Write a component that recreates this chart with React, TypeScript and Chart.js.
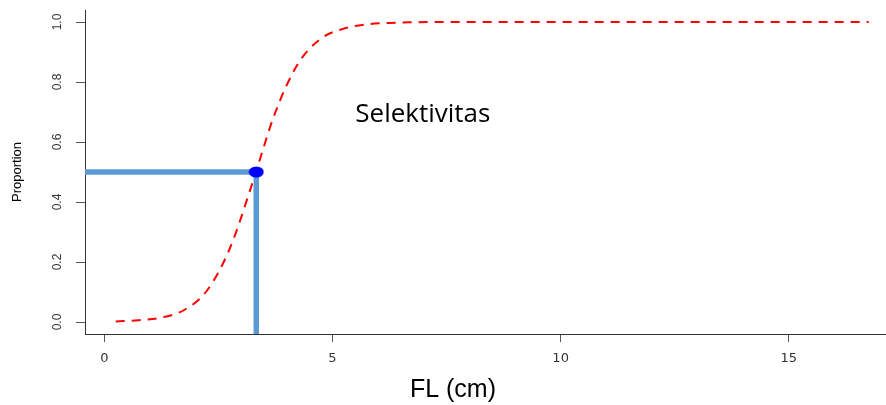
import React, { useEffect, useRef } from "react";
import { Chart, registerables } from "chart.js";

Chart.register(...registerables);

// ---- data ----
const lengthsCm = [0.25, 0.75, 1.25, 1.75, 2.25, 2.75, 3.25, 3.75, 4.25, 4.75, 5.25, 5.75, 6.25, 6.75, 7.25, 7.75, 8.25, 8.75, 9.25, 9.75, 10.25, 10.75, 11.25, 11.75, 12.25, 12.75, 13.25, 13.75, 14.25, 14.75, 15.25, 15.75, 16.25, 16.75];
const proportion = [0.002, 0.006, 0.015, 0.04, 0.105, 0.245, 0.465, 0.7, 0.862, 0.945, 0.978, 0.992, 0.997, 0.999, 1, 1, 1, 1, 1, 1, 1, 1, 1, 1, 1, 1, 1, 1, 1, 1, 1, 1, 1, 1];
const l50 = 3.33;
const p50 = 0.5;
const xTicks = [0, 5, 10, 15];
const yTicks = [0, 0.2, 0.4, 0.6, 0.8, 1.0];
const xRange = [-0.423, 17.13];
const yRange = [-0.04, 1.04];
const annotationText = "Selektivitas";
const annotationAt = [5.5, 0.69];
const xTitle = "FL (cm)";
const xTitleCenter = 7.64;
const yTitle = "Proportion";

function makeDot(): HTMLCanvasElement {
  const c = document.createElement("canvas");
  c.width = 16;
  c.height = 12;
  const g = c.getContext("2d")!;
  g.fillStyle = "#0000ff";
  g.beginPath();
  g.ellipse(8, 6, 7.5, 5.5, 0, 0, Math.PI * 2);
  g.fill();
  return c;
}

const textPlugin = {
  id: "textPlugin",
  afterDraw(chart: any) {
    const { ctx, scales, chartArea } = chart;
    ctx.save();
    ctx.fillStyle = "#000000";
    ctx.font = '26px "Open Sans"';
    ctx.textAlign = "left";
    ctx.textBaseline = "middle";
    ctx.fillText(annotationText, scales.x.getPixelForValue(annotationAt[0]), scales.y.getPixelForValue(annotationAt[1]));
    ctx.font = '25px "Liberation Sans"';
    ctx.textAlign = "center";
    ctx.fillText(xTitle, scales.x.getPixelForValue(xTitleCenter), chartArea.bottom + 56);
    ctx.restore();
  },
};

export default function App() {
  const ref = useRef<HTMLCanvasElement | null>(null);
  useEffect(() => {
    if (!ref.current) return;
    const chart = new Chart(ref.current, {
      type: "line",
      data: {
        datasets: [
          {
            label: "L50",
            data: [{ x: l50, y: p50 }],
            showLine: false,
            pointStyle: makeDot() as any,
            pointRadius: 6,
            order: 0,
          } as any,
          {
            label: "h",
            data: [{ x: xRange[0], y: p50 }, { x: l50 - 0.12, y: p50 }],
            borderColor: "#5b9bd5",
            borderWidth: 5.5,
            pointRadius: 0,
            order: 1,
          },
          {
            label: "v",
            data: [{ x: l50, y: p50 }, { x: l50, y: yRange[0] }],
            borderColor: "#5b9bd5",
            borderWidth: 5.5,
            pointRadius: 0,
            order: 1,
          },
          {
            label: "Selektivitas",
            data: lengthsCm.map((x, i) => ({ x, y: proportion[i] })),
            borderColor: "#ff0000",
            borderWidth: 2,
            borderDash: [9, 7],
            pointRadius: 0,
            cubicInterpolationMode: "monotone",
            order: 2,
          },
        ],
      },
      options: {
        animation: false,
        responsive: true,
        maintainAspectRatio: false,
        layout: { autoPadding: false, padding: { top: 10, left: 0, right: 0, bottom: 0 } },
        plugins: { legend: { display: false }, tooltip: { enabled: false } },
        scales: {
          x: {
            type: "linear",
            min: xRange[0],
            max: xRange[1],
            afterBuildTicks: (s: any) => {
              s.ticks = xTicks.map((v) => ({ value: v }));
            },
            afterFit: (s: any) => {
              s.height = 71;
              s.paddingLeft = 0;
              s.paddingRight = 0;
            },
            border: { display: true, color: "#333333", width: 1 },
            grid: { drawOnChartArea: false, drawTicks: true, tickLength: 8, color: "#555555" },
            ticks: {
              font: { family: "DejaVu Sans", size: 13 },
              color: "#333333",
              padding: 9,
              maxRotation: 0,
              minRotation: 0,
              callback: (v: any) => String(v),
            },
          },
          y: {
            type: "linear",
            min: yRange[0],
            max: yRange[1],
            afterBuildTicks: (s: any) => {
              s.ticks = yTicks.map((v) => ({ value: v }));
            },
            afterFit: (s: any) => {
              s.width = 85;
              s.paddingTop = 0;
              s.paddingBottom = 0;
            },
            border: { display: true, color: "#333333", width: 1 },
            grid: { drawOnChartArea: false, drawTicks: true, tickLength: 9, color: "#555555" },
            ticks: {
              font: { family: "Liberation Sans", size: 12 },
              color: "#333333",
              padding: 10,
              minRotation: 90,
              maxRotation: 90,
              crossAlign: "center",
              callback: (v: any) => Number(v).toFixed(1),
            },
            title: {
              display: true,
              text: yTitle,
              color: "#000000",
              font: { family: "Liberation Sans", size: 13 },
              padding: { top: 10, bottom: 0 },
            },
          },
        },
      },
      plugins: [textPlugin],
    });
    return () => chart.destroy();
  }, []);
  return (
    <div style={{ position: "absolute", left: 0, top: 0, width: 886, height: 405, background: "#ffffff" }}>
      <canvas ref={ref} />
    </div>
  );
}
